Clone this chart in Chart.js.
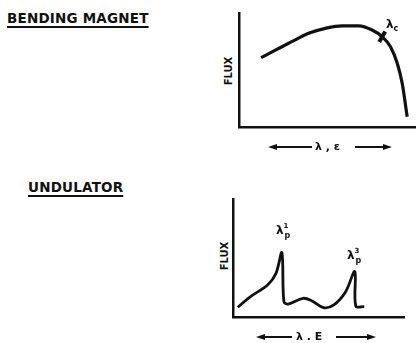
<!DOCTYPE html>
<html>
<head>
<meta charset="utf-8">
<script src="https://cdn.jsdelivr.net/npm/chart.js@4.4.1/dist/chart.umd.min.js"></script>
<style>
  html, body { margin: 0; padding: 0; background: #fff; }
  #wrap { position: relative; width: 416px; height: 343px; overflow: hidden; font-family: "DejaVu Sans", sans-serif; color: #111; }
  .cv { position: absolute; }
  .lbl { position: absolute; font-weight: bold; white-space: nowrap; line-height: 1; }
  .title { font-size: 13.5px; text-decoration: underline; text-decoration-thickness: 2px; text-underline-offset: 3px; letter-spacing: 0.2px; }
  .flux { font-size: 10px; transform: rotate(-90deg); transform-origin: center; }
  .arr { position: absolute; height: 2px; background: #111; }
  .head { position: absolute; width: 0; height: 0; border-top: 3px solid transparent; border-bottom: 3px solid transparent; }
  .head.l { border-right: 9px solid #111; }
  .head.r { border-left: 9px solid #111; }
</style>
</head>
<body>
<div id="wrap">
  <div class="lbl title" style="left:7px; top:12px;">BENDING MAGNET</div>
  <div class="lbl title" style="left:28px; top:181px;">UNDULATOR</div>

  <canvas id="bm" class="cv" style="left:237px; top:12px;" width="179" height="117"></canvas>
  <canvas id="und" class="cv" style="left:231px; top:198px;" width="174" height="121"></canvas>

  <div class="lbl flux" style="left:215px; top:66px;">FLUX</div>
  <div class="lbl flux" style="left:211px; top:251px;">FLUX</div>

  <div class="lbl" style="left:386px; top:18px; font-size:12px;">λ<sub style="font-size:8px;">c</sub></div>
  <div class="lbl" style="left:276px; top:224px; font-size:12px;">λ<span style="position:relative; font-size:7px; top:-6px;">1</span><span style="position:relative; font-size:8px; top:4px; left:-4px;">p</span></div>
  <div class="lbl" style="left:347px; top:249px; font-size:12px;">λ<span style="position:relative; font-size:7px; top:-6px;">3</span><span style="position:relative; font-size:8px; top:4px; left:-4px;">p</span></div>

  <!-- wavelength / energy arrows -->
  <div class="head l" style="left:268px; top:144px;"></div>
  <div class="arr" style="left:274px; top:146px; width:38px;"></div>
  <div class="lbl" style="left:315px; top:141px; font-size:11px;">λ , ε</div>
  <div class="arr" style="left:355px; top:146px; width:30px;"></div>
  <div class="head r" style="left:383px; top:144px;"></div>

  <div class="head l" style="left:256px; top:334px;"></div>
  <div class="arr" style="left:262px; top:336px; width:30px;"></div>
  <div class="lbl" style="left:296px; top:331px; font-size:11px;">λ . E</div>
  <div class="arr" style="left:336px; top:336px; width:33px;"></div>
  <div class="head r" style="left:367px; top:334px;"></div>
</div>

<script>
  // bending magnet: smooth spectrum, x/y in % of axis length
  const bmX = [12.5, 20.8, 29.8, 39.3, 48.8, 58.2, 67.7, 75.2, 80.9, 85.6, 89.4, 92.2, 95];
  const bmY = [60.3, 67, 74.2, 81.5, 85.8, 88, 88, 84.3, 78.5, 69.8, 55.4, 38, 9];
  // critical wavelength marker
  const critX = [80.9];
  const critY = [78.5];

  // undulator: harmonic peaks
  const undX = [2.8, 10.2, 20.1, 25, 28.4, 29.6, 32, 40.8, 45.7, 52.7, 58.6, 65.5, 70.8, 71.4, 76.3];
  const undY = [8.2, 17.1, 26.9, 36.7, 54, 12.9, 10.9, 15.7, 13.7, 7.8, 10.1, 21.3, 38.1, 9.2, 8.7];

  const pts = (xs, ys) => xs.map((x, i) => ({ x, y: ys[i] }));

  function axes() {
    const hide = s => { if (s.isHorizontal()) s.height = 0; else s.width = 0; };
    const common = { min: 0, max: 100, grid: { display: false, drawTicks: false }, ticks: { display: false }, border: { color: "#111", width: 2.5 }, afterFit: hide };
    return { x: { type: "linear", ...common }, y: { type: "linear", ...common } };
  }

  function build(id, datasets) {
    return new Chart(document.getElementById(id), {
      type: "line",
      data: { datasets },
      options: {
        responsive: false, animation: false, events: [],
        layout: { autoPadding: false, padding: { left: 2, bottom: 2, top: 0, right: 0 } },
        plugins: { legend: { display: false }, tooltip: { enabled: false } },
        scales: axes()
      }
    });
  }

  build("bm", [
    { data: pts(bmX, bmY), borderColor: "#111", borderWidth: 3.2, pointRadius: 0, tension: 0.4, cubicInterpolationMode: "monotone" },
    { data: pts(critX, critY), showLine: false, pointStyle: "line", rotation: 120, pointRadius: 6, borderWidth: 4, borderColor: "#111" }
  ]);

  build("und", [
    { data: pts(undX, undY), borderColor: "#111", borderWidth: 2.8, pointRadius: 0, tension: 0.35 }
  ]);
</script>
</body>
</html>
